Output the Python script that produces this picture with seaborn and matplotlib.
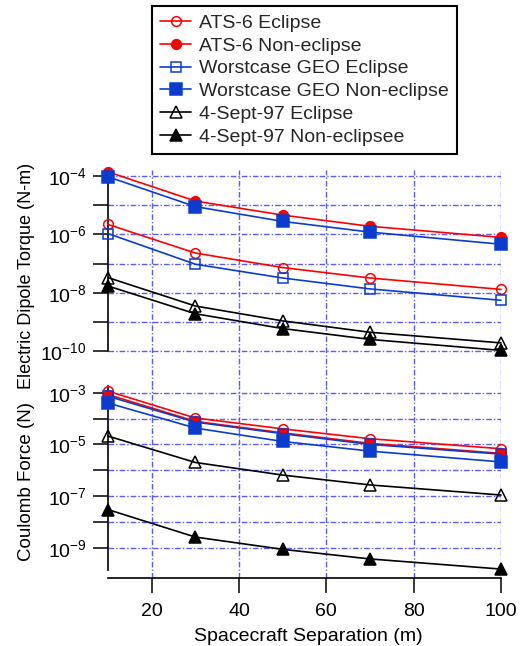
import matplotlib
matplotlib.use("Agg")
import matplotlib.pyplot as plt
import seaborn as sns
from matplotlib.ticker import NullLocator

# Spacecraft separation (m)
sep = [10, 30, 50, 70, 100]

# Electric dipole torque (N-m)
ats6_ecl_torque = [2.2e-6, 2.3e-7, 7.3e-8, 3.2e-8, 1.3e-8]
ats6_non_torque = [1.4e-4, 1.4e-5, 4.6e-6, 1.9e-6, 7.9e-7]
geo_ecl_torque = [1.07e-6, 9.5e-8, 3.2e-8, 1.35e-8, 5.5e-9]
geo_non_torque = [9.5e-5, 9.0e-6, 2.8e-6, 1.2e-6, 4.6e-7]
sept_ecl_torque = [3.3e-8, 3.5e-9, 1.08e-9, 4.4e-10, 1.9e-10]
sept_non_torque = [1.7e-8, 1.9e-9, 5.9e-10, 2.5e-10, 1.05e-10]

# Coulomb force (N)
ats6_ecl_force = [1.15e-3, 1.05e-4, 4.0e-5, 1.66e-5, 6.8e-6]
ats6_non_force = [8.5e-4, 7.8e-5, 2.8e-5, 1.1e-5, 4.5e-6]
geo_ecl_force = [7.3e-4, 7.3e-5, 2.6e-5, 1.0e-5, 4.2e-6]
geo_non_force = [4.0e-4, 4.3e-5, 1.3e-5, 5.5e-6, 2.1e-6]
sept_ecl_force = [2.1e-5, 2.0e-6, 6.5e-7, 2.7e-7, 1.1e-7]
sept_non_force = [3.0e-8, 2.6e-9, 8.7e-10, 3.7e-10, 1.5e-10]

labels = ["ATS-6 Eclipse", "ATS-6 Non-eclipse", "Worstcase GEO Eclipse",
          "Worstcase GEO Non-eclipse", "4-Sept-97 Eclipse", "4-Sept-97 Non-eclipsee"]
torque = [ats6_ecl_torque, ats6_non_torque, geo_ecl_torque, geo_non_torque,
          sept_ecl_torque, sept_non_torque]
force = [ats6_ecl_force, ats6_non_force, geo_ecl_force, geo_non_force,
         sept_ecl_force, sept_non_force]

RED = "#ff0000"
BLUE = "#0a3ccf"
colors = [RED, RED, BLUE, BLUE, "black", "black"]
markers = ["o", "o", "s", "s", "^", "^"]
msizes = [7, 7, 7.8, 8.5, 8, 8]
filled = [False, True, False, True, False, True]

sns.set_theme(style="ticks")
plt.rcParams["font.family"] = ["Liberation Sans", "DejaVu Sans"]
plt.rcParams["mathtext.default"] = "regular"

fig = plt.figure(figsize=(5.28, 6.46), dpi=100)
W, H = 528, 646
left = 108 / W
width = (501 - 108) / W
ax_t = fig.add_axes([left, 1 - 386 / H, width, (386 - 170) / H])
ax_b = fig.add_axes([left, 1 - 577.5 / H, width, (577.5 - 386) / H])

for ax, data in [(ax_t, torque), (ax_b, force)]:
    for lab, vals, c, m, ms, f in zip(labels, data, colors, markers, msizes, filled):
        sns.lineplot(x=sep, y=vals, ax=ax, color=c, linewidth=1.2, label=lab,
                     marker=m, markersize=ms, markerfacecolor=c if f else "none",
                     markeredgecolor=c, markeredgewidth=1.1, clip_on=False,
                     legend=False, zorder=3)
    ax.set_yscale("log")
    ax.set_xlim(10, 100)
    ax.set_xticks([20, 40, 60, 80, 100])
    ax.yaxis.set_minor_locator(NullLocator())
    ax.set_axisbelow(True)
    ax.grid(True, which="major", color="#5a5aff", linestyle=(0, (4, 1.5, 1, 1.5)),
            linewidth=1.0)
    for s in ["top", "right"]:
        ax.spines[s].set_visible(False)
    for s in ["left", "bottom"]:
        ax.spines[s].set_color("black")
        ax.spines[s].set_linewidth(1.2)
    ax.tick_params(axis="both", direction="out", length=10.5, width=1.1,
                   color="black", labelsize=14, labelcolor="black", pad=5)
    ax.tick_params(axis="x", pad=8)

# top panel: torque
ax_t.set_ylim(10 ** -11.2, 10 ** -3.79)
dec_t = list(range(-10, -3))
ax_t.set_yticks([10.0 ** d for d in dec_t])
ax_t.set_yticklabels(["$10^{%d}$" % d if d % 2 == 0 else "" for d in dec_t])
ax_t.spines["left"].set_bounds(1e-10, 10 ** -3.79)
ax_t.spines["bottom"].set_visible(False)
ax_t.tick_params(axis="x", bottom=False, labelbottom=False)
ax_t.set_ylabel("Electric Dipole Torque (N-m)", fontsize=13, color="black")
ax_t.yaxis.set_label_coords(-0.185, 0.51)

# bottom panel: force
ax_b.set_ylim(10 ** -10.15, 10 ** -2.74)
dec_b = list(range(-9, -2))
ax_b.set_yticks([10.0 ** d for d in dec_b])
ax_b.set_yticklabels(["$10^{%d}$" % d if d % 2 != 0 else "" for d in dec_b])
ax_b.spines["left"].set_bounds(10 ** -9.85, 10 ** -2.74)
ax_b.set_ylabel("Coulomb Force (N)", fontsize=13.5, color="black")
ax_b.yaxis.set_label_coords(-0.185, 0.5)
ax_b.set_xlabel("Spacecraft Separation (m)", fontsize=14, color="black")
ax_b.xaxis.set_label_coords(0.51, -0.262)

handles, labs = ax_t.get_legend_handles_labels()
leg = fig.legend(handles, labs, loc="upper left", bbox_to_anchor=(152 / W, 1 - 6 / H),
                 frameon=True, fancybox=False, edgecolor="black", framealpha=1,
                 fontsize=14, borderpad=0.42, labelspacing=0.265, handlelength=1.6,
                 handletextpad=0.38, borderaxespad=0)
leg.get_frame().set_linewidth(1.5)

fig.savefig("out.png", dpi=100)
